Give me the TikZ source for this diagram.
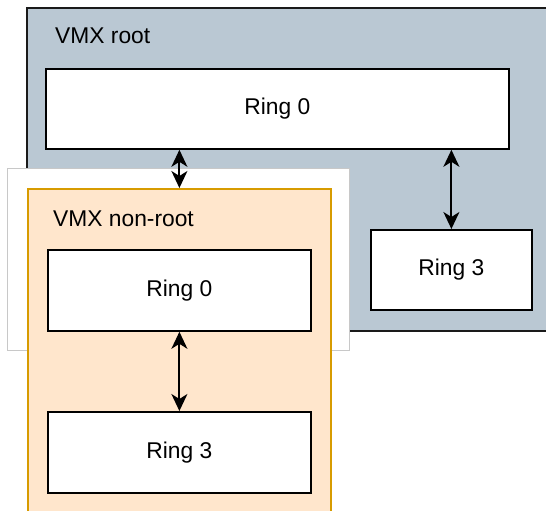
\documentclass[tikz,border=0pt]{standalone}
\usepackage{fontspec}
\setmainfont{Liberation Sans}
\usetikzlibrary{arrows.meta}
\definecolor{rootfill}{HTML}{BAC8D3}
\definecolor{rootline}{HTML}{1A1A1A}
\definecolor{nrfill}{HTML}{FFE6CC}
\definecolor{nrline}{HTML}{D79B00}
\definecolor{ghost}{HTML}{C8C8C8}
\tikzset{
  lbl/.style={font=\fontsize{22.8}{27}\selectfont, inner sep=0pt, anchor=base west},
  ringbox/.style={draw=black, fill=white, line width=1.8pt, anchor=north west, inner sep=0pt,
    font=\fontsize{22.8}{27}\selectfont},
  biarrow/.style={line width=2pt, {Stealth[length=17pt,width=16pt,inset=5pt]}-{Stealth[length=17pt,width=16pt,inset=5pt]}},
}
\begin{document}
\begin{tikzpicture}[x=1pt,y=-1pt]
\useasboundingbox (0,0) rectangle (546,511);
\clip (0,0) rectangle (546,511);
% VMX root container
\node[draw=rootline, fill=rootfill, line width=2pt, anchor=north west, inner sep=0pt,
  minimum width=526pt, minimum height=323pt] (root) at (26,7) {};
\node[lbl] (rootlbl) at (55,44) {VMX root};
\node[ringbox, minimum width=463pt, minimum height=80pt] (r0) at (45,68) {Ring 0};
\node[ringbox, minimum width=161pt, minimum height=80pt] (r3) at (370,229) {Ring 3};
% white backing box
\node[draw=ghost, fill=white, line width=1pt, anchor=north west, inner sep=0pt,
  minimum width=342pt, minimum height=182pt] (ghostbox) at (7,168) {};
% VMX non-root container
\node[draw=nrline, fill=nrfill, line width=2pt, anchor=north west, inner sep=0pt,
  minimum width=303pt, minimum height=340pt] (nonroot) at (27,188) {};
\node[lbl] (nrlbl) at (53,226) {VMX non-root};
\node[ringbox, minimum width=263pt, minimum height=81pt] (n0) at (47,249) {Ring 0};
\node[ringbox, minimum width=263pt, minimum height=81pt] (n3) at (47,411) {Ring 3};
% arrows
\draw[biarrow] (r0.south -| n0.north) -- (nonroot.north -| n0.north);
\draw[biarrow] (r0.south -| r3.north) -- (r3.north);
\draw[biarrow] (n0.south) -- (n3.north);
\end{tikzpicture}
\end{document}
